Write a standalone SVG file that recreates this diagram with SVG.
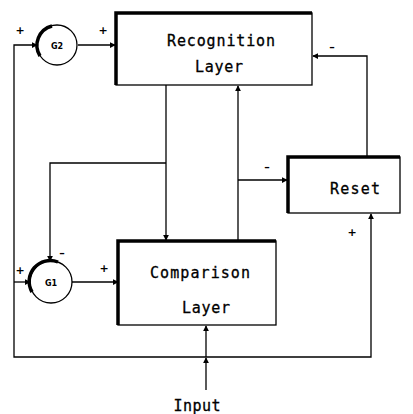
<svg xmlns="http://www.w3.org/2000/svg" width="413" height="414" viewBox="0 0 413 414">
<style>
.box{fill:#fff;stroke:#000;stroke-width:1.3}
.thick{fill:none;stroke:#000;stroke-width:3.5}
.ln{fill:none;stroke:#000;stroke-width:1.3}
.lbl{font-family:"DejaVu Sans Mono","Liberation Mono",monospace;font-size:15px;fill:#000;stroke:#000;stroke-width:0.3}
.sm{font-family:"DejaVu Sans","Liberation Sans",sans-serif;font-size:8px;font-weight:bold;fill:#000}
.sg{font-family:"DejaVu Sans","Liberation Sans",sans-serif;font-size:11px;font-weight:bold;fill:#000}
</style>
<defs>
<marker id="a" viewBox="0 0 8 8" refX="7" refY="4" markerWidth="6" markerHeight="6" orient="auto" markerUnits="userSpaceOnUse">
<path d="M0,0 L8,4 L0,8 z" fill="#000"/>
</marker>
</defs>
<rect width="413" height="414" fill="#fff"/>
<g id="connectors">
<path class="ln" d="M78,45 H115" marker-end="url(#a)"/>
<path class="ln" d="M206,357 H14 V45 H37" marker-end="url(#a)"/>
<path class="ln" d="M14,282 H30" marker-end="url(#a)"/>
<path class="ln" d="M72,282 H118" marker-end="url(#a)"/>
<path class="ln" d="M166,85 V240" marker-end="url(#a)"/>
<path class="ln" d="M166,163 H50 V261" marker-end="url(#a)"/>
<path class="ln" d="M238,241 V86" marker-end="url(#a)"/>
<path class="ln" d="M238,180 H287" marker-end="url(#a)"/>
<path class="ln" d="M367,157 V56 H313" marker-end="url(#a)"/>
<path class="ln" d="M206,390 V358" marker-end="url(#a)"/>
<path class="ln" d="M206,357 V326" marker-end="url(#a)"/>
<path class="ln" d="M206,357 H371 V214" marker-end="url(#a)"/>
</g>
<g id="recognition">
<rect class="box" x="116" y="13" width="196" height="72"/>
<path class="thick" d="M116,85 V13 H312"/>
<text class="lbl" x="221" y="46" text-anchor="middle" textLength="108" lengthAdjust="spacing">Recognition</text>
<text class="lbl" x="219" y="72" text-anchor="middle" textLength="48" lengthAdjust="spacing">Layer</text>
</g>
<g id="comparison">
<rect class="box" x="118" y="241" width="158" height="84"/>
<path class="thick" d="M118,325 V241 H276"/>
<text class="lbl" x="200" y="278" text-anchor="middle" textLength="100" lengthAdjust="spacing">Comparison</text>
<text class="lbl" x="206" y="313" text-anchor="middle" textLength="48" lengthAdjust="spacing">Layer</text>
</g>
<g id="reset">
<rect class="box" x="288" y="157" width="112" height="56"/>
<path class="thick" d="M288,213 V157 H400"/>
<text class="lbl" x="355" y="194" text-anchor="middle" textLength="50" lengthAdjust="spacing">Reset</text>
</g>
<g id="g2">
<circle class="box" cx="57" cy="45" r="20"/>
<path class="thick" d="M52,26 A20,20 0 0 0 40,56"/>
<text class="sm" x="57" y="49" text-anchor="middle">G2</text>
</g>
<g id="g1">
<circle class="box" cx="51" cy="282" r="21"/>
<path class="thick" d="M58,262 A21,21 0 0 0 32,292"/>
<text class="sm" x="51" y="286" text-anchor="middle">G1</text>
</g>
<g id="signs">
<text class="sg" x="20" y="34" text-anchor="middle">+</text>
<text class="sg" x="103" y="34" text-anchor="middle">+</text>
<text class="sg" x="332" y="51" text-anchor="middle">–</text>
<text class="sg" x="267" y="171" text-anchor="middle">–</text>
<text class="sg" x="352" y="236" text-anchor="middle">+</text>
<text class="sg" x="20" y="274" text-anchor="middle">+</text>
<text class="sg" x="62" y="257" text-anchor="middle">–</text>
<text class="sg" x="104" y="272" text-anchor="middle">+</text>
</g>
<text class="lbl" x="197" y="411" text-anchor="middle" textLength="47" lengthAdjust="spacing">Input</text>
</svg>
